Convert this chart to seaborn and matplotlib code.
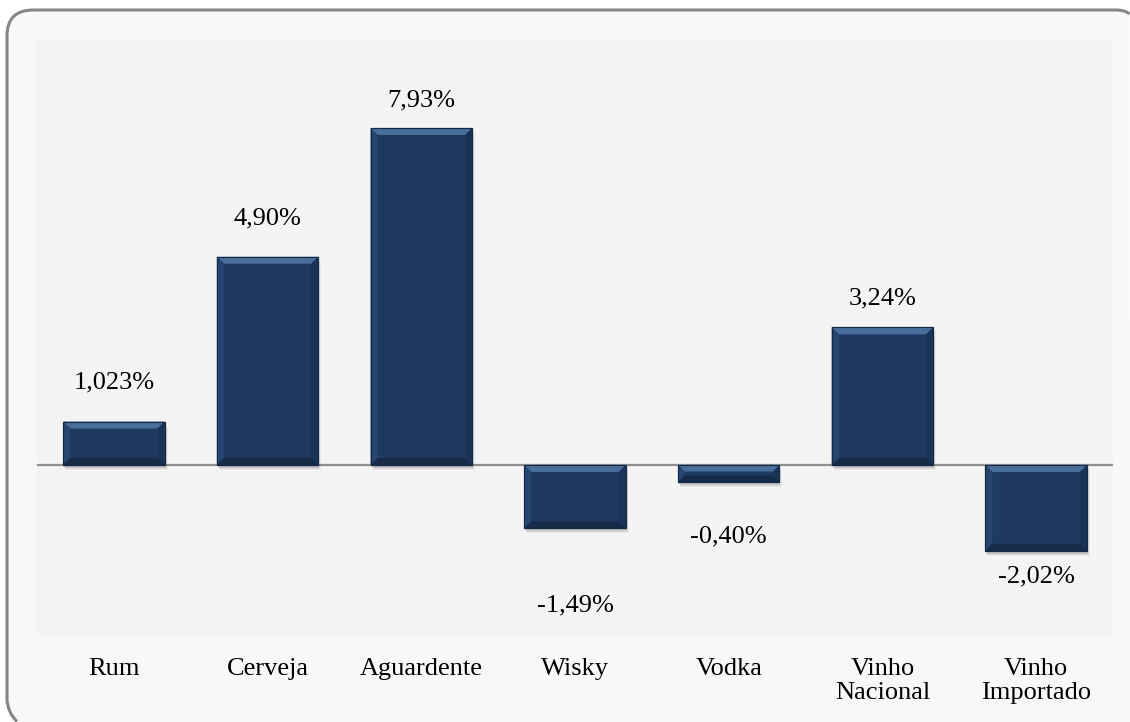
import matplotlib
matplotlib.use("Agg")
import matplotlib.pyplot as plt
from matplotlib.patches import Polygon, Rectangle, PathPatch
from matplotlib.path import Path
import seaborn as sns
import pandas as pd

categories = ["Rum", "Cerveja", "Aguardente", "Wisky", "Vodka",
              "Vinho\nNacional", "Vinho\nImportado"]
values = [1.023, 4.90, 7.93, -1.49, -0.40, 3.24, -2.02]
value_labels = ["1,023%", "4,90%", "7,93%", "-1,49%", "-0,40%", "3,24%", "-2,02%"]
# label distance from bar end, in pixels (manual placement in the original)
label_offset_px = [39, 38, 28, 77, 54, 29, 26]

sns.set_theme(style="white")
plt.rcParams["font.family"] = ["Liberation Serif", "DejaVu Serif"]

DPI = 100
W, H = 1130, 722
fig = plt.figure(figsize=(W / DPI, H / DPI), dpi=DPI, facecolor="white")

# rounded outer frame (display pixels, origin bottom-left); partly outside canvas
M, C3, LT = Path.MOVETO, Path.CURVE3, Path.LINETO
edge_verts = [(17, 0.5), (8, 9), (7, 22), (7, 686), (7, 712), (33, 712),
              (1116, 712), (1125, 712), (1129.5, 708)]
edge_codes = [M, C3, C3, LT, C3, C3, LT, C3, C3]
fill_verts = edge_verts + [(1130, 0), (17, 0)]
fill_codes = edge_codes + [LT, LT]
fig.patches.append(PathPatch(Path(fill_verts, fill_codes), transform=None,
                             facecolor="#f8f8f8", edgecolor="none", zorder=-6))
fig.patches.append(PathPatch(Path(edge_verts, edge_codes), transform=None,
                             facecolor="none", edgecolor="#868686", linewidth=2.2,
                             zorder=-5))

ax_l, ax_r, ax_t, ax_b = 37, 1113, 40, 635
ax = fig.add_axes([ax_l / W, (H - ax_b) / H, (ax_r - ax_l) / W, (ax_b - ax_t) / H])
ax.set_facecolor("#f4f4f4")

df = pd.DataFrame({"cat": categories, "val": values})
sns.barplot(data=df, x="cat", y="val", color="#1e3a61", saturation=1, width=0.66,
            ax=ax, zorder=3, edgecolor="#152b4a", linewidth=0.8)

ax.set_ylim(-4, 10)
ax.set_xlim(-0.5, len(categories) - 0.5)
for s in ax.spines.values():
    s.set_visible(False)
ax.set_yticks([])
ax.set_xlabel("")
ax.set_ylabel("")
ax.tick_params(axis="x", length=0, pad=16.5, labelsize=19, colors="black")
for t in ax.get_xticklabels():
    t.set_linespacing(1.15)

ax.axhline(0, color="#8f8f8f", linewidth=1.6, zorder=2)

# pixel -> data conversions
px_x = (ax_r - ax_l) / len(categories)   # pixels per x unit
px_y = (ax_b - ax_t) / 14.0              # pixels per y unit

for p, lab, off in zip(ax.patches, value_labels, label_offset_px):
    x0 = p.get_x()
    x1 = x0 + p.get_width()
    ya, yb = p.get_y(), p.get_y() + p.get_height()
    y0, y1 = min(ya, yb), max(ya, yb)
    h_px = (y1 - y0) * px_y
    b = min(7.0, h_px / 2.6)
    bx = b / px_x
    by = b / px_y
    # shadow
    for k, a in enumerate([0.10, 0.07, 0.04]):
        sh = Rectangle((x0 + (1 + k) / px_x, y0 - (3 + k) / px_y), x1 - x0,
                       (y1 - y0), facecolor="black", alpha=a, edgecolor="none", zorder=2.5)
        ax.add_patch(sh)
    # bevel faces
    top = Polygon([(x0, y1), (x1, y1), (x1 - bx, y1 - by), (x0 + bx, y1 - by)],
                  closed=True, facecolor="#4a6e9b", edgecolor="none", zorder=4)
    left = Polygon([(x0, y1), (x0 + bx, y1 - by), (x0 + bx, y0 + by), (x0, y0)],
                   closed=True, facecolor="#27466f", edgecolor="none", zorder=4)
    right = Polygon([(x1, y1), (x1 - bx, y1 - by), (x1 - bx, y0 + by), (x1, y0)],
                    closed=True, facecolor="#1a3357", edgecolor="none", zorder=4)
    bot = Polygon([(x0, y0), (x1, y0), (x1 - bx, y0 + by), (x0 + bx, y0 + by)],
                  closed=True, facecolor="#152b48", edgecolor="none", zorder=4)
    for poly in (top, left, right, bot):
        ax.add_patch(poly)
    ax.add_patch(Rectangle((x0, y0), x1 - x0, y1 - y0, facecolor="none",
                           edgecolor="#132846", linewidth=0.8, zorder=5))
    cx = (x0 + x1) / 2
    if p.get_height() >= 0:
        ty = y1 + off / px_y
    else:
        ty = y0 - off / px_y
    ax.text(cx, ty, lab, ha="center", va="center", fontsize=19, color="black", zorder=6)

fig.savefig("out.png", dpi=DPI, facecolor="white")
